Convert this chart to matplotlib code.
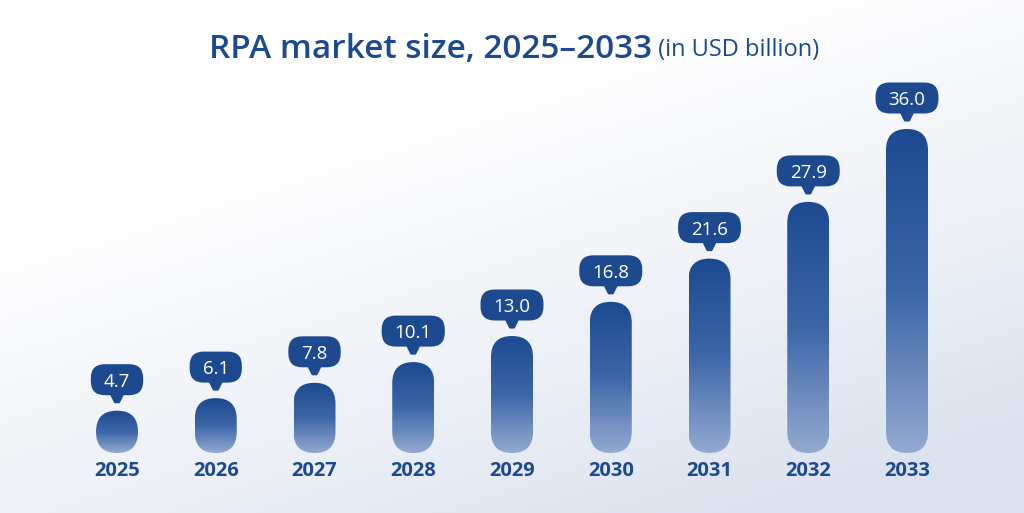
import numpy as np
import matplotlib
matplotlib.use("Agg")
import matplotlib.pyplot as plt
from matplotlib.patches import FancyBboxPatch, Polygon
from matplotlib.colors import LinearSegmentedColormap
from matplotlib.transforms import IdentityTransform

years = ["2025", "2026", "2027", "2028", "2029", "2030", "2031", "2032", "2033"]
values = [4.7, 6.1, 7.8, 10.1, 13.0, 16.8, 21.6, 27.9, 36.0]
value_labels = ["4.7", "6.1", "7.8", "10.1", "13.0", "16.8", "21.6", "27.9", "36.0"]

DARK = "#1d4a8f"
W, H = 1024, 513
fig = plt.figure(figsize=(W / 100, H / 100), dpi=100)

# background gradient
bg = fig.add_axes([0, 0, 1, 1], zorder=0)
bg.set_axis_off()
yy, xx = np.mgrid[0:1:200j, 0:1:400j]
g = np.clip(0.95 * yy + 0.6 * xx - 0.42, 0, 1) ** 1.1
bg_cmap = LinearSegmentedColormap.from_list("bg", ["#ffffff", "#eef1f7", "#dbe2ee"])
bg.imshow(g, cmap=bg_cmap, aspect="auto", extent=[0, 1, 0, 1], origin="upper", vmin=0, vmax=1)
bg.set_xlim(0, 1)
bg.set_ylim(0, 1)

# data axes: y=0 at pixel 453, 9 px per unit; x centers at 117 + 98.75*i
left_px = 117 - 98.75 / 2
ax = fig.add_axes([left_px / W, (H - 453) / H, 9 * 98.75 / W, 360 / H], zorder=1)
ax.set_xlim(-0.5, 8.5)
ax.set_ylim(0, 40)
ax.set_axis_off()
ax.patch.set_alpha(0)

px_x = 98.75  # px per x unit
px_y = 9.0    # px per y unit
bar_w_px = 42
bw = bar_w_px / px_x
rx = bw / 2
ry = (bar_w_px / 2) / px_y
ma = ry / rx

bar_cmap = LinearSegmentedColormap.from_list("bar", ["#1c4990", "#3d66a7", "#93aad0"])
grad = np.linspace(0, 1, 256).reshape(-1, 1)

fig.canvas.draw()
renderer = fig.canvas.get_renderer()

for i, v in enumerate(values):
    patch = FancyBboxPatch((i - bw / 2, 0), bw, v,
                           boxstyle=f"round,pad=0,rounding_size={rx}",
                           mutation_aspect=ma, facecolor="none", edgecolor="none")
    ax.add_patch(patch)
    im = ax.imshow(grad, cmap=bar_cmap, aspect="auto",
                   extent=[i - bw / 2, i + bw / 2, 0, v], origin="upper",
                   zorder=2)
    im.set_clip_path(patch)

    # bubble label (display coordinates derived from the data point)
    cx, top = ax.transData.transform((i, v))
    cy = top + 31
    t = fig.text(cx, cy, value_labels[i], transform=IdentityTransform(),
                 ha="center", va="center_baseline", color="white", fontsize=13.5,
                 fontfamily="Open Sans", fontweight="medium", zorder=6)
    tw = t.get_window_extent(renderer).width
    bwid = tw + 26
    bhei = 31
    bub = FancyBboxPatch((cx - bwid / 2, cy - bhei / 2), bwid, bhei,
                         boxstyle="round,pad=0,rounding_size=14",
                         transform=IdentityTransform(), facecolor=DARK,
                         edgecolor="none", zorder=5)
    fig.add_artist(bub)
    tail = Polygon([[cx - 6, cy - bhei / 2 + 1], [cx + 6, cy - bhei / 2 + 1],
                    [cx + 2, cy - bhei / 2 - 7], [cx - 2, cy - bhei / 2 - 7]],
                   closed=True, transform=IdentityTransform(), facecolor=DARK,
                   edgecolor=DARK, linewidth=1.5, joinstyle="round", zorder=5)
    fig.add_artist(tail)

    # year label
    ax.annotate(years[i], xy=(i, 0), xytext=(0, -18), textcoords="offset pixels",
                ha="center", va="center", color=DARK, fontsize=14.5,
                fontfamily="Open Sans", fontweight="bold")

# title
title_main = fig.text(0, 1 - 49 / H, "RPA market size, 2025\u20132033", ha="left",
                      va="center", color=DARK, fontsize=24, fontfamily="Open Sans",
                      fontweight="semibold")
sub = fig.text(0, 1 - 50 / H, " (in USD billion)", ha="left", va="center",
               color=DARK, fontsize=17, fontfamily="Open Sans")
wm = title_main.get_window_extent(renderer).width
ws = sub.get_window_extent(renderer).width
start = (W - (wm + ws)) / 2 + 2
title_main.set_position((start / W, 1 - 49 / H))
sub.set_position(((start + wm) / W, 1 - 50 / H))

fig.savefig("out.png", dpi=100)
